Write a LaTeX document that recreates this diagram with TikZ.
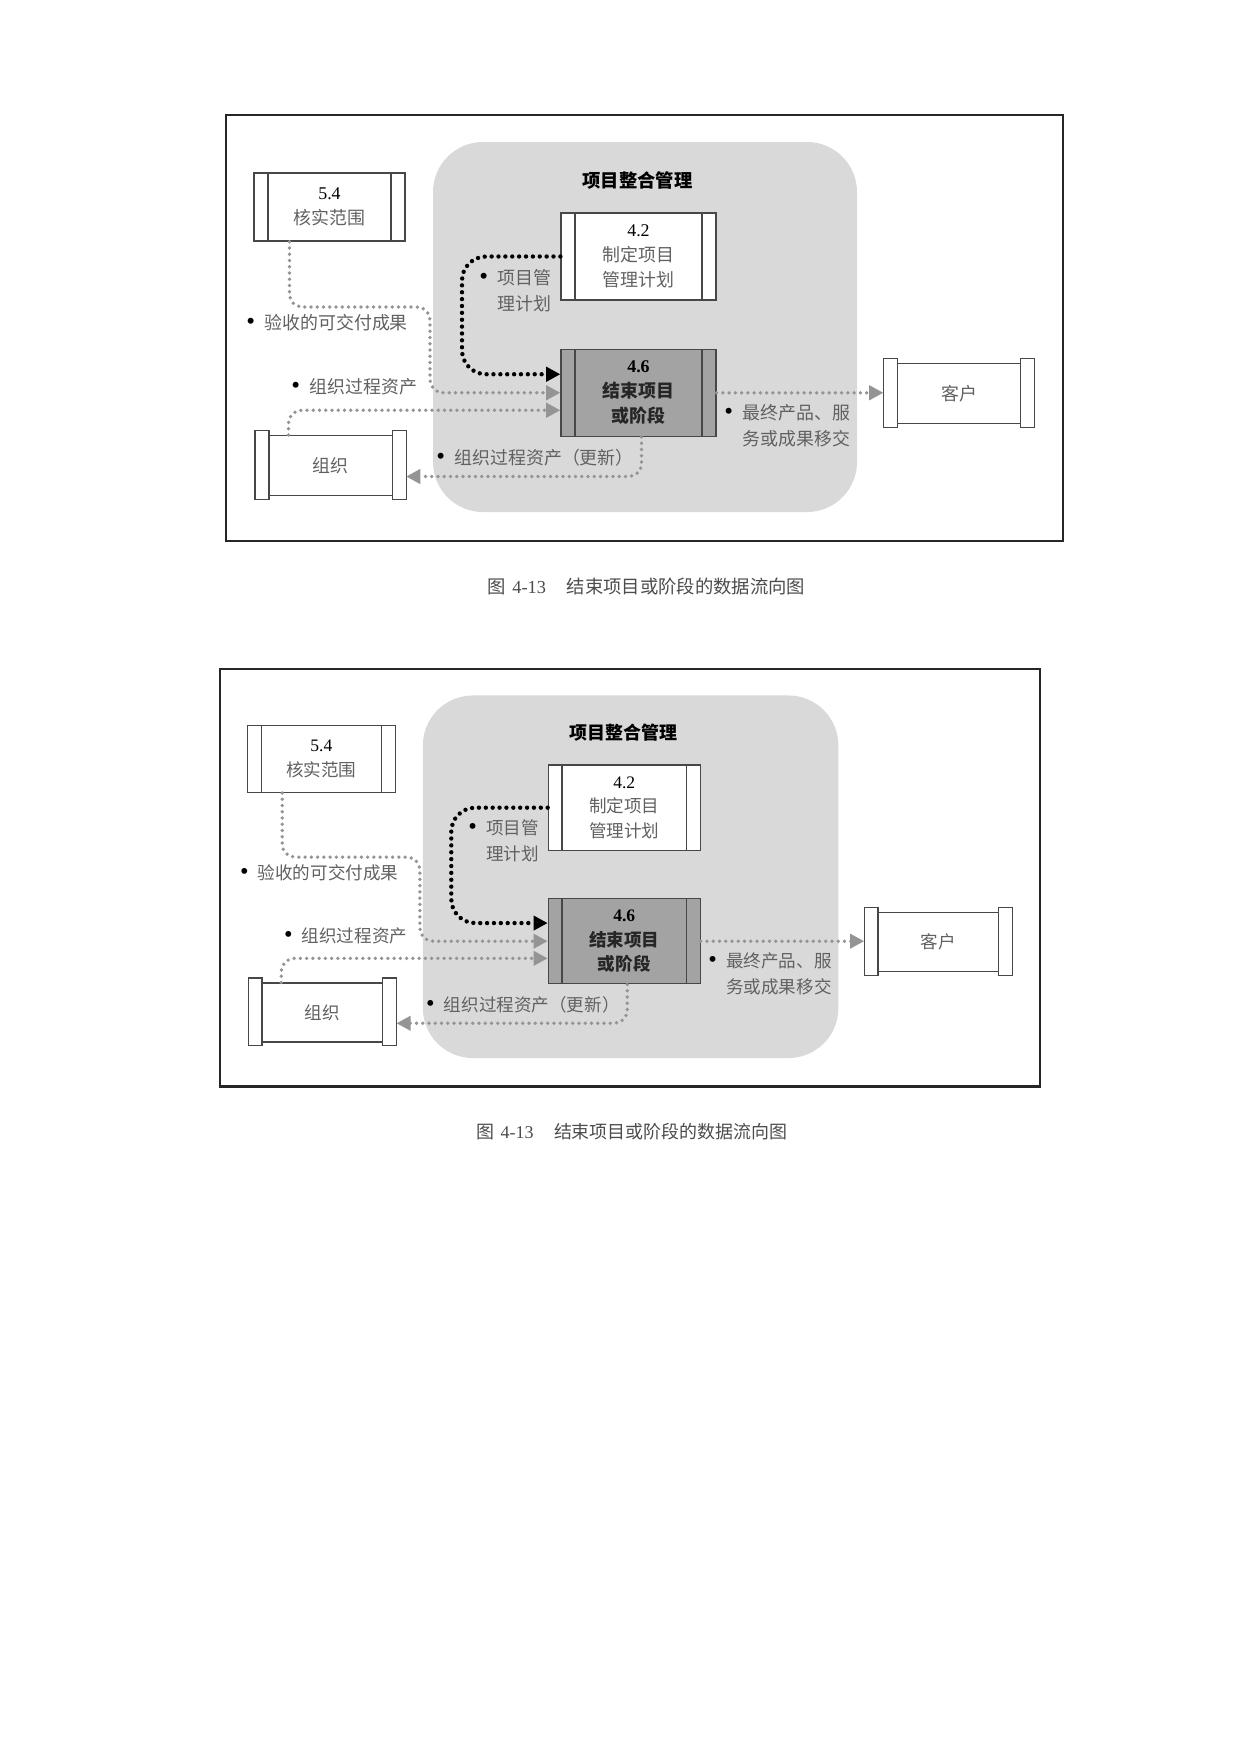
\documentclass[tikz,border=0pt]{standalone}
\usepackage{fontspec}
\setmainfont{Liberation Serif}
\newfontfamily\cjk{Noto Sans CJK SC}
\usetikzlibrary{arrows.meta, calc, positioning}

\newlength\px
\setlength\px{0.48pt}
\newcommand\blt{{\rmfamily\color{black}\fontsize{12}{12}\selectfont\textbullet}\hspace{4.5pt}}

\colorlet{textgray}{black!62}
\colorlet{linegray}{black!72}
\colorlet{dotgray}{black!42}
\colorlet{fieldgray}{black!15}
\colorlet{procgray}{black!36}

\tikzset{
  frame/.style={draw=black!85, line width=1.1pt, minimum width=837\px, minimum height=426\px, inner sep=0pt},
  field/.style={fill=fieldgray, rounded corners=50\px, minimum width=424\px, minimum height=370\px, inner sep=0pt},
  proc/.style={draw=linegray, line width=0.6pt, fill=white, minimum width=155\px, minimum height=87\px,
    inner sep=0pt, align=center, text=textgray, font=\cjk\fontsize{8.6}{12}\selectfont,
    path picture={\draw[linegray, line width=0.6pt]
      ([xshift=14\px]path picture bounding box.north west) -- ([xshift=14\px]path picture bounding box.south west)
      ([xshift=-14\px]path picture bounding box.north east) -- ([xshift=-14\px]path picture bounding box.south east);}},
  party/.style={draw=linegray, line width=0.6pt, fill=white, minimum width=150\px, minimum height=60\px,
    inner sep=0pt, text=textgray, font=\cjk\fontsize{8.6}{12}\selectfont},
  bar/.style={draw=linegray, line width=0.6pt, fill=white},
  lbl/.style={anchor=west, inner sep=0pt, align=left, text=textgray, font=\cjk\fontsize{8.6}{12.5}\selectfont},
  flow/.style={draw=dotgray, line width=1.8pt, line cap=round, dash pattern=on 0pt off 3pt,
    rounded corners=13\px, -{Triangle[length=6.8pt, width=6.8pt]}},
  plan/.style={flow, draw=black, line width=2.1pt, dash pattern=on 0pt off 3.3pt, rounded corners=24\px},
}

\newcommand\closeflow{%
  %frame, caption and process group
  \node[frame] (fr) at (418.5,213) {};
  \node[font=\fontsize{8.8}{11}\selectfont, text=black!70] (cap) at (420.5,472)
    {{\cjk 图}\hspace{3pt}4-13\hspace{10pt}{\cjk 结束项目或阶段的数据流向图}};
  \node[field] (pim) at (419,212) {};
  \node[font=\cjk\bfseries\fontsize{8.8}{11}\selectfont] (ttl) at (411.5,65) {项目整合管理};

  %define processes and parties
  \node[proc, minimum width=151\px, minimum height=68\px] (n54) at (103.5,92) {{\rmfamily\color{black}5.4}\\核实范围};
  \node[proc] (n42) at (412.5,141.5) {{\rmfamily\color{black}4.2}\\制定项目\\管理计划};
  \node[proc, fill=procgray, text=black!85, font=\cjk\bfseries\fontsize{8.6}{12}\selectfont] (n46) [below=48\px of n42]
    {{\rmfamily\color{black}4.6}\\结束项目\\或阶段};
  \node[party] (nkh) at (733,278.5) {客户};
  \node[party] (nzz) at (104.5,350.5) {组织};
  \foreach \n in {nkh, nzz} {
    \draw[bar] (\n.north west) ++(0,-4.5) rectangle ++(14,69);
    \draw[bar] (\n.north east) ++(-14,-4.5) rectangle ++(14,69);
  }

  %define the flows
  \draw[flow] ([xshift=-40\px]n54.south) |- (204,192) |- (n46.west);
  \draw[flow] ([xshift=-42\px]nzz.north) |- ($(n46.west)+(0,17.5)$);
  \draw[plan] (n42.west) -| (236,200) |- ($(n46.west)+(0,-18.5)$);
  \draw[flow] (n46.east) -- (n46.east -| nkh.west);
  \draw[flow] ([xshift=3\px]n46.south) |- ($(nzz.east)+(0,11)$);

  %data labels
  \node[lbl] (l1) at (20,208) {\blt 验收的可交付成果};
  \node[lbl] (l2) at (65,272) {\blt 组织过程资产};
  \node[lbl] (l3) at (253,175.5) {\blt 项目管\\\hphantom{\blt}理计划};
  \node[lbl] (l4) at (210,343) {\blt 组织过程资产（更新）};
  \node[lbl] (l5) at (498,311) {\blt 最终产品、服\\\hphantom{\blt}务或成果移交};
}

\begin{document}
\begin{tikzpicture}[x=0.48pt, y=-0.48pt]
  \fill[white] (0,0) rectangle (1241,1754);
  \begin{scope}[name prefix=t-, shift={(226,115)}]
    \closeflow
  \end{scope}
  \begin{scope}[name prefix=b-, shift={(220,669)}, scale=0.98, transform shape]
    \closeflow
  \end{scope}
\end{tikzpicture}
\end{document}
